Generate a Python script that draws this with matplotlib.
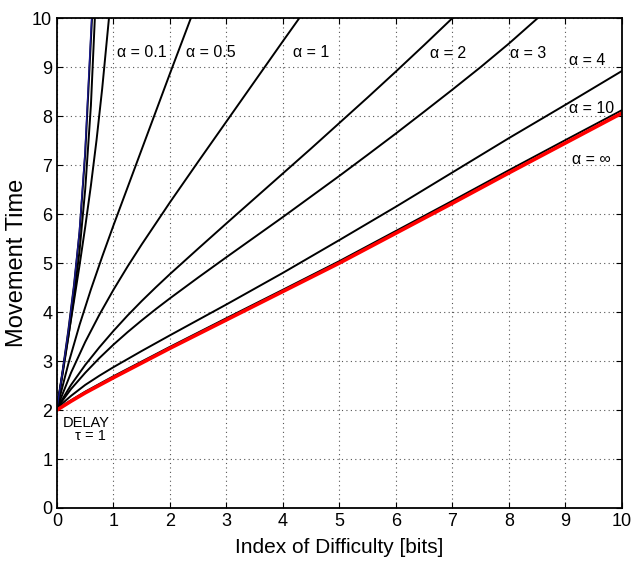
import matplotlib
matplotlib.use("Agg")
import matplotlib.pyplot as plt

plt.rcParams['font.family'] = ['Liberation Sans', 'DejaVu Sans']

# curves (x = index of difficulty, y = movement time)
x_blue = [0, 0.1, 0.2, 0.3, 0.395, 0.494, 0.612]
y_blue = [2.04, 2.8, 3.62, 4.54, 5.64, 7.24, 10.0]

x_a001 = [0, 0.1, 0.2, 0.3, 0.4, 0.5, 0.62]
y_a001 = [2.04, 2.8, 3.62, 4.54, 5.64, 7.24, 10.0]

x_a005 = [0, 0.1, 0.2, 0.3, 0.4, 0.5, 0.6, 0.67]
y_a005 = [2.04, 2.74, 3.48, 4.30, 5.26, 6.51, 8.21, 10.0]

x_a01 = [0, 0.1, 0.2, 0.3, 0.4, 0.5, 0.6, 0.7, 0.8, 0.9, 0.92]
y_a01 = [2.04, 2.78, 3.5, 4.22, 4.96, 5.74, 6.58, 7.51, 8.56, 9.76, 10.0]

x_a05 = [0, 0.2, 0.4, 0.6, 0.8, 1.0, 1.2, 1.4, 1.6, 1.8, 2.0, 2.2, 2.37]
y_a05 = [2.04, 2.94, 3.74, 4.46, 5.13, 5.77, 6.39, 7.01, 7.63, 8.25, 8.87, 9.48, 10.0]

x_a1 = [0, 0.25, 0.5, 0.75, 1.0, 1.25, 1.5, 2.0, 2.5, 3.0, 3.5, 4.0, 4.29]
y_a1 = [2.04, 2.765, 3.39, 3.945, 4.455, 4.93, 5.38, 6.24, 7.07, 7.89, 8.71, 9.53, 10.0]

x_a2 = [0, 0.25, 0.5, 0.75, 1.0, 1.25, 1.5, 1.75, 2.0, 2.5, 3.0, 3.5, 4.0, 4.5, 5.0, 5.5, 6.0, 6.5, 7.0]
y_a2 = [2.04, 2.515, 2.92, 3.28, 3.615, 3.93, 4.225, 4.505, 4.775, 5.295, 5.81, 6.32, 6.83, 7.34,
        7.86, 8.38, 8.91, 9.45, 10.0]

x_a3 = [0, 0.25, 0.5, 0.75, 1.0, 1.25, 1.5, 1.75, 2.0, 2.5, 3.0, 3.5, 4.0, 4.5, 5.0, 5.5, 6.0, 6.5,
        7.0, 7.5, 8.0, 8.51]
y_a3 = [2.04, 2.43, 2.76, 3.06, 3.335, 3.59, 3.83, 4.06, 4.28, 4.705, 5.12, 5.53, 5.94, 6.36, 6.78,
        7.21, 7.645, 8.09, 8.54, 9.0, 9.48, 10.0]

x_a4 = [0, 0.25, 0.5, 0.75, 1, 1.5, 2, 3, 4, 5, 6, 7, 8, 9, 10]
y_a4 = [2.04, 2.29, 2.5125, 2.70, 2.875, 3.205, 3.525, 4.155, 4.80, 5.47, 6.15, 6.85, 7.55, 8.23, 8.92]

x_a10 = [0, 0.25, 0.5, 1, 1.5, 2, 3, 4, 5, 6, 7, 8, 9, 10]
y_a10 = [2.02, 2.2, 2.375, 2.69, 2.99, 3.29, 3.875, 4.455, 5.04, 5.655, 6.27, 6.895, 7.51, 8.12]

x_inf = [0, 0.25, 0.5, 1, 1.5, 2, 3, 4, 5, 6, 7, 8, 9, 10]
y_inf = [2.0, 2.18, 2.35, 2.66, 2.96, 3.26, 3.84, 4.42, 5.0, 5.61, 6.22, 6.84, 7.45, 8.06]

# curve labels: text, x, y
labels = [
    ('α = 0.1', 1.06, 9.3),
    ('α = 0.5', 2.28, 9.3),
    ('α = 1', 4.18, 9.3),
    ('α = 2', 6.6, 9.28),
    ('α = 3', 8.02, 9.28),
    ('α = 4', 9.06, 9.14),
    ('α = 10', 9.06, 8.15),
    ('α = ∞', 9.11, 7.12),
]

fig = plt.figure(figsize=(6.34, 5.64), dpi=100)
ax = fig.add_axes([0.0899, 0.0993, 0.8911, 0.8687])

for xs, ys in [(x_a001, y_a001), (x_a005, y_a005), (x_a01, y_a01),
               (x_a05, y_a05), (x_a1, y_a1), (x_a2, y_a2), (x_a3, y_a3),
               (x_a4, y_a4), (x_a10, y_a10)]:
    ax.plot(xs, ys, color='black', lw=1.4)
ax.plot(x_blue, y_blue, color='#1a1a8c', lw=1.0)
ax.plot(x_inf, y_inf, color='red', lw=2.6)

for txt, tx, ty in labels:
    ax.text(tx, ty, txt, fontsize=11.5, va='center', ha='left')

ax.text(0.1, 1.74, 'DELAY', fontsize=10.5, va='center', ha='left')
ax.text(0.32, 1.47, 'τ = 1', fontsize=10.5, va='center', ha='left')

ax.set_xlim(0, 10)
ax.set_ylim(0, 10)
ax.set_xticks(range(11))
ax.set_yticks(range(11))
ax.tick_params(direction='in', top=True, right=True, labelsize=13, length=4)
ax.grid(True, linestyle=(0, (1, 3)), color='#555555', lw=0.8)
for s in ax.spines.values():
    s.set_linewidth(1.3)

ax.set_xlabel('Index of Difficulty [bits]', fontsize=15, labelpad=6)
ax.set_ylabel('Movement Time', fontsize=17, labelpad=3)

fig.savefig('out.png', dpi=100)
